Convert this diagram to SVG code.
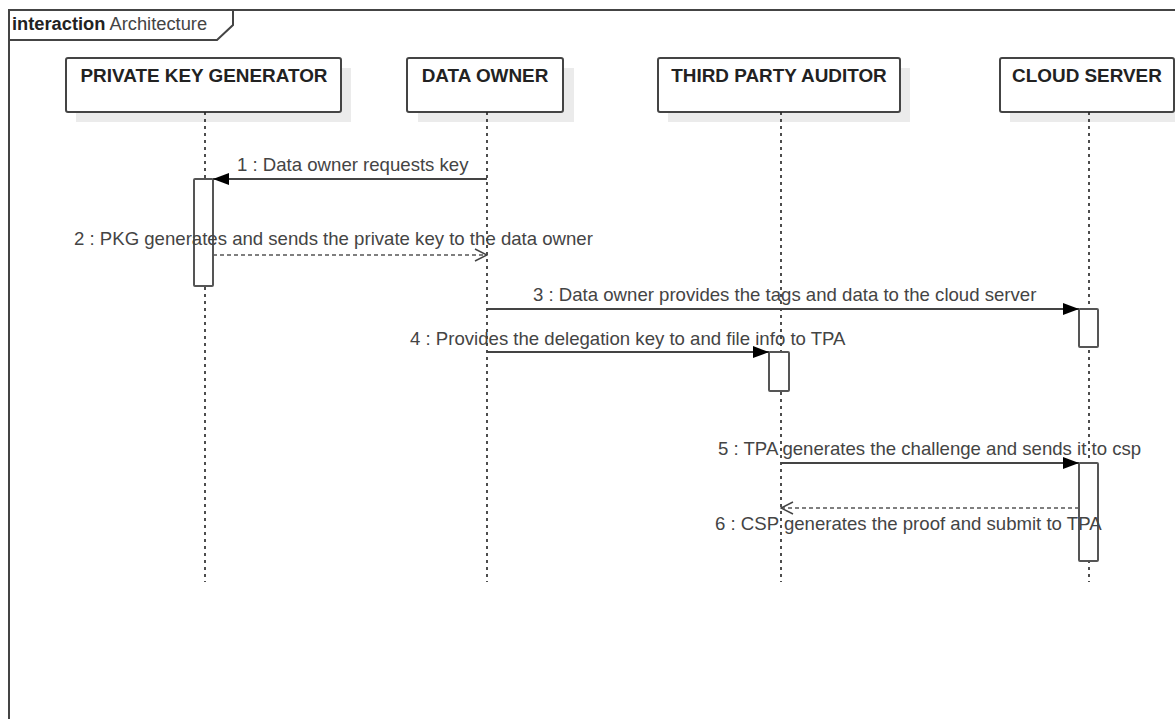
<svg xmlns="http://www.w3.org/2000/svg" width="1175" height="719" viewBox="0 0 1175 719">
<defs>
<style>
.frame{fill:none;stroke:#444;stroke-width:2}
.shadow{fill:#ebebeb;stroke:none}
.box{fill:#fff;stroke:#444;stroke-width:2}
.blabel{font-family:"Liberation Sans",Arial,sans-serif;font-size:18.9px;font-weight:bold;fill:#222;text-anchor:middle}
.life{stroke:#222;stroke-width:1.6;stroke-dasharray:3,4;fill:none}
.act{fill:#fff;stroke:#555;stroke-width:2}
.msg{stroke:#444;stroke-width:1.8;fill:none}
.ret{stroke:#555;stroke-width:1.5;stroke-dasharray:4,3;fill:none}
.mlabel{font-family:"Liberation Sans",Arial,sans-serif;font-size:18.6px;fill:#444}
.title{font-family:"Liberation Sans",Arial,sans-serif;font-size:18.3px;fill:#444}
</style>
<marker id="filled" markerUnits="userSpaceOnUse" markerWidth="16" markerHeight="14" viewBox="0 0 16 14" refX="16" refY="7" orient="auto">
<path d="M0,1 L16,7 L0,13 Z" fill="#000"/>
</marker>
<marker id="open" markerUnits="userSpaceOnUse" markerWidth="14" markerHeight="14" viewBox="0 0 14 14" refX="13" refY="7" orient="auto">
<path d="M1,1 L13,7 L1,13" fill="none" stroke="#444" stroke-width="1.5"/>
</marker>
</defs>
<rect width="1175" height="719" fill="#fff"/>
<g id="frame">
<rect class="frame" x="9" y="10" width="1200" height="720"/>
<path class="frame" d="M9,40 L217,40 L233,25 L233,10"/>
<text class="title" x="12" y="30"><tspan font-weight="bold" fill="#222">interaction</tspan> Architecture</text>
</g>
<g id="pkg">
<rect class="shadow" x="76" y="68" width="275" height="54"/>
<rect class="box" x="66" y="58" width="275" height="54" rx="2"/>
<text class="blabel" x="204" y="82">PRIVATE KEY GENERATOR</text>
<line class="life" x1="205" y1="112" x2="205" y2="582"/>
<rect class="act" x="194" y="179" width="19" height="107" rx="1"/>
</g>
<g id="data-owner">
<rect class="shadow" x="418" y="68" width="156" height="54"/>
<rect class="box" x="407" y="58" width="156" height="54" rx="2"/>
<text class="blabel" x="485" y="82">DATA OWNER</text>
<line class="life" x1="487" y1="112" x2="487" y2="582"/>
</g>
<g id="tpa">
<rect class="shadow" x="668" y="68" width="242" height="54"/>
<rect class="box" x="658" y="58" width="242" height="54" rx="2"/>
<text class="blabel" x="779" y="82">THIRD PARTY AUDITOR</text>
<line class="life" x1="781" y1="112" x2="781" y2="582"/>
<rect class="act" x="769" y="352" width="20" height="39" rx="1"/>
</g>
<g id="cloud-server">
<rect class="shadow" x="1010" y="68" width="175" height="54"/>
<rect class="box" x="1000" y="58" width="174" height="54" rx="2"/>
<text class="blabel" x="1087" y="82">CLOUD SERVER</text>
<line class="life" x1="1089" y1="112" x2="1089" y2="582"/>
<rect class="act" x="1079" y="309" width="19" height="38" rx="1"/>
<rect class="act" x="1079" y="463" width="19" height="98" rx="1"/>
</g>
<g id="connectors">
<line class="msg" x1="487" y1="179" x2="213" y2="179" marker-end="url(#filled)"/>
<text class="mlabel" x="237" y="171">1 : Data owner requests key</text>
<line class="ret" x1="213" y1="255" x2="487" y2="255" marker-end="url(#open)"/>
<text class="mlabel" x="74" y="245">2 : PKG generates and sends the private key to the data owner</text>
<line class="msg" x1="487" y1="309" x2="1079" y2="309" marker-end="url(#filled)"/>
<text class="mlabel" x="533" y="301">3 : Data owner provides the tags and data to the cloud server</text>
<line class="msg" x1="487" y1="352" x2="769" y2="352" marker-end="url(#filled)"/>
<text class="mlabel" x="410" y="345">4 : Provides the delegation key to and file info to TPA</text>
<line class="msg" x1="781" y1="463" x2="1079" y2="463" marker-end="url(#filled)"/>
<text class="mlabel" x="718" y="455">5 : TPA generates the challenge and sends it to csp</text>
<line class="ret" x1="1079" y1="508" x2="781" y2="508" marker-end="url(#open)"/>
<text class="mlabel" x="715" y="530">6 : CSP generates the proof and submit to TPA</text>
</g>
</svg>
